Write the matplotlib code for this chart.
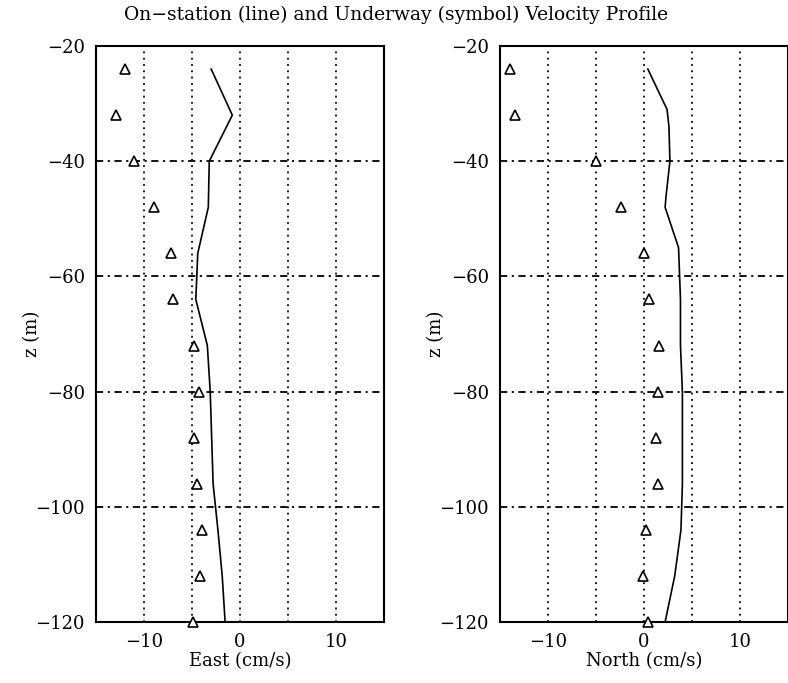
import matplotlib.pyplot as plt

# underway (symbol) depths and velocities
z_sym = [-24, -32, -40, -48, -56, -64, -72, -80, -88, -96, -104, -112, -120]
east_sym = [-12.0, -12.9, -11.0, -9.0, -7.2, -7.0, -4.8, -4.3, -4.8, -4.5, -4.0, -4.2, -4.9]
north_sym = [-14.0, -13.4, -5.0, -2.4, 0.0, 0.5, 1.6, 1.5, 1.3, 1.5, 0.2, -0.1, 0.4]

# on-station (line) profiles
z_east = [-24, -32, -40, -48, -56, -64, -72, -80, -88, -96, -104, -112, -120]
east_line = [-3.0, -0.8, -3.2, -3.3, -4.4, -4.6, -3.4, -3.1, -2.95, -2.8, -2.3, -1.85, -1.55]
z_north = [-24, -31, -34, -40, -46, -48, -55, -64, -72, -80, -88, -96, -104, -112, -120]
north_line = [0.4, 2.4, 2.6, 2.7, 2.3, 2.2, 3.6, 3.8, 3.8, 4.0, 4.0, 4.0, 3.85, 3.2, 2.2]

x_ticks = [-10, 0, 10]
x_grid = [-10, -5, 0, 5, 10]
z_ticks = [-20, -40, -60, -80, -100, -120]

plt.rcParams['font.family'] = ['DejaVu Serif']
plt.rcParams['font.size'] = 13

fig = plt.figure(figsize=(7.88, 6.83), dpi=100)
ax1 = fig.add_axes([0.1218, 0.0893, 0.3655, 0.8433])
ax2 = fig.add_axes([0.6345, 0.0893, 0.3655, 0.8433])

panels = [
    (ax1, east_sym, z_east, east_line, 'East (cm/s)'),
    (ax2, north_sym, z_north, north_line, 'North (cm/s)'),
]

for ax, sym, zl, line, xlab in panels:
    for xg in x_grid:
        ax.axvline(xg, color='black', lw=1.3, ls=(0, (1, 2.5)), zorder=1)
    for zg in z_ticks[1:-1]:
        ax.axhline(zg, color='black', lw=1.3, ls=(0, (4, 2.5, 1.2, 2.5)), zorder=1)
    ax.plot(line, zl, color='black', lw=1.2, zorder=3)
    ax.plot(sym, z_sym, ls='none', marker='^', markersize=7, markerfacecolor='white',
            markeredgecolor='black', markeredgewidth=1.2, zorder=4, clip_on=False)
    ax.set_xlim(-15, 15)
    ax.set_ylim(-120, -20)
    ax.set_xticks(x_ticks)
    ax.set_yticks(z_ticks)
    ax.tick_params(length=0, pad=8, labelsize=13)
    ax.set_xlabel(xlab, fontsize=13, labelpad=1)
    ax.set_ylabel('z (m)', fontsize=13, labelpad=-4)
    for sp in ax.spines.values():
        sp.set_linewidth(1.5)

fig.text(0.502, 0.978, 'On\u2212station (line) and Underway (symbol) Velocity Profile',
         ha='center', va='center', fontsize=13.5)

fig.savefig('out.png', dpi=100)
